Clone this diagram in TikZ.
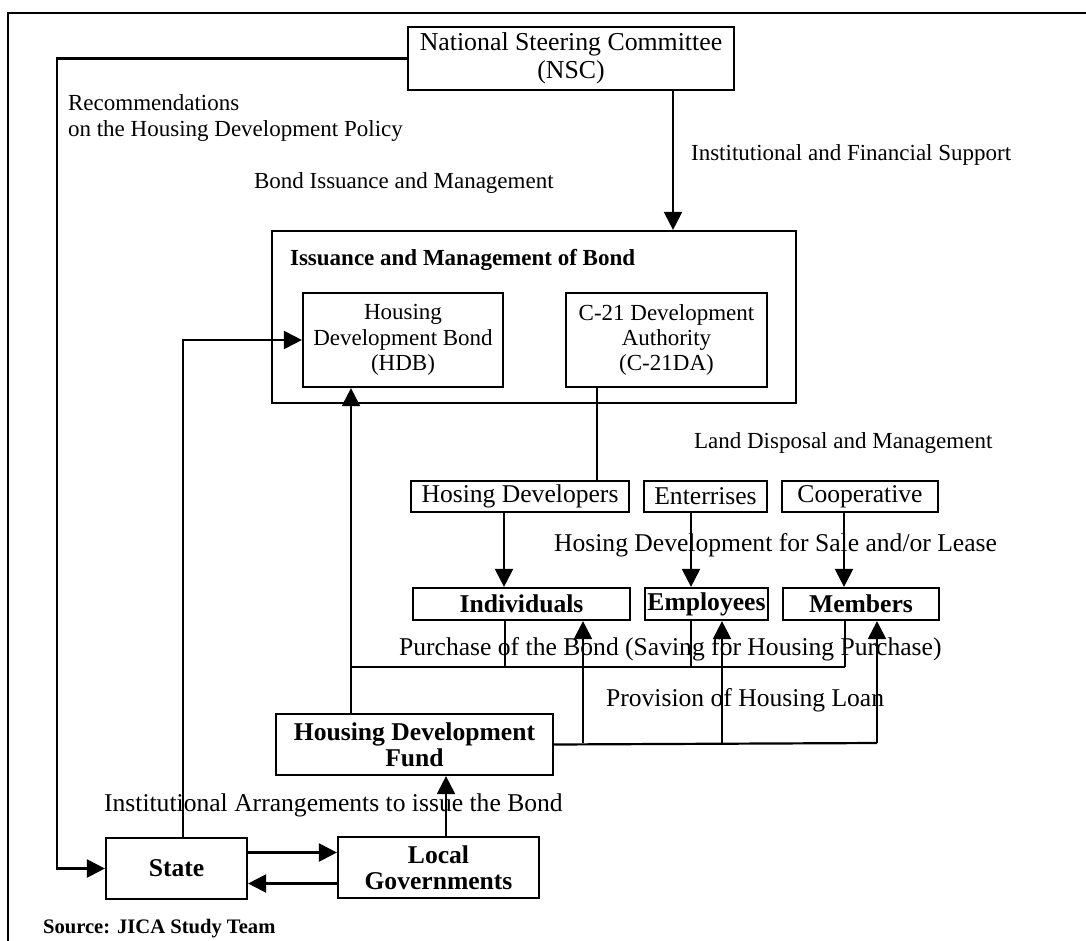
\documentclass[tikz,border=0pt]{standalone}
\usepackage{fontspec}
\setmainfont{Liberation Serif}
\usetikzlibrary{arrows.meta}

\newcommand{\smtxt}{\fontsize{11.5}{12.6}\selectfont}
\newcommand{\lrgtxt}{\fontsize{12.8}{13}\selectfont}
\newcommand{\nsctxt}{\fontsize{12.9}{14}\selectfont}
\newcommand{\srctxt}{\fontsize{10.3}{12}\selectfont}

\tikzset{
	box/.style={draw, line width=1.1pt, inner sep=1pt, align=center, font=\lrgtxt},
	bbox/.style={box, font=\lrgtxt\bfseries},
	lbl/.style={anchor=west, inner sep=0pt, font=\smtxt},
	blbl/.style={lbl, font=\lrgtxt},
	arr/.style={-{Triangle[length=9pt,width=9pt]}, line width=1.1pt}
}

\begin{document}
\begin{tikzpicture}[x=0.5pt, y=-0.5pt, line width=1.1pt]

	\useasboundingbox (0,0) rectangle (1086,941);
	\draw[line width=0.7pt] (8,941) -- (8,13) -- (1086,13);

	\node[box, font=\nsctxt, minimum width=163pt, minimum height=31.5pt] (nsc) at (571,58.5) {National Steering Committee\\(NSC)};

	\node[draw, inner sep=0pt, minimum width=262pt, minimum height=86pt] (issue) at (534,317) {};
	\node[lbl, font=\smtxt\bfseries] (issuetitle) at (289,260) {Issuance and Management of Bond};
	\node[box, font=\smtxt, minimum width=100pt, minimum height=47pt] (hdb) at (403,340) {Housing\\Development Bond\\(HDB)};
	\node[box, font=\smtxt, minimum width=100.5pt, minimum height=47pt] (c21) at (666.5,340) {C-21 Development\\Authority\\(C-21DA)};

	\node[box, minimum width=109pt, minimum height=15.5pt] (hdev) at (520,496.5) {Hosing Developers};
	\node[box, minimum width=61.5pt, minimum height=15.5pt] (ent) at (705.5,496.5) {Enterrises};
	\node[box, minimum width=78pt, minimum height=15.5pt] (coop) at (860,496.5) {Cooperative};

	\node[bbox, minimum width=108.5pt, minimum height=16pt] (indiv) at (521.5,604) {Individuals};
	\node[bbox, minimum width=61.5pt, minimum height=16pt] (empl) at (706.5,604) {Employees};
	\node[bbox, minimum width=78pt, minimum height=16pt] (memb) at (861,604) {Members};

	\node[bbox, minimum width=138.5pt, minimum height=30.5pt] (fund) at (414.5,744.5) {Housing Development\\Fund};
	\node[bbox, minimum width=70.5pt, minimum height=30.5pt] (state) at (176.5,868.5) {State};
	\node[bbox, minimum width=100.5pt, minimum height=30.5pt] (local) at (438.5,867.5) {Local\\Governments};

	\node[lbl, align=left] (recom) at (67,118) {Recommendations\\on the Housing Development Policy};
	\node[lbl] (bondman) at (253,183) {Bond Issuance and Management};
	\node[lbl] (support) at (690,155) {Institutional and Financial Support};
	\node[lbl] (land) at (693,443) {Land Disposal and Management};
	\node[blbl] (sale) at (553,545) {Hosing Development for Sale and/or Lease};
	\node[blbl] (purchase) at (398,649) {Purchase of the Bond (Saving for Housing Purchase)};
	\node[blbl] (loan) at (605,700) {Provision of Housing Loan};
	\node[blbl] (arrange) at (103,805) {Institutional Arrangements to issue the Bond};
	\node[anchor=base west, inner sep=0pt, font=\srctxt\bfseries] (src) at (42,933) {Source: JICA Study Team};

	\coordinate (lft) at (57,868.5);
	\coordinate (nscx) at (673,0);
	\coordinate (stup) at (183,340);
	\coordinate (localx) at (446,0);
	\coordinate (bondx) at (351,0);
	\coordinate (c21x) at (597,0);

	\draw[arr] (nsc.west) -| (lft) -- (state.west);
	\draw[arr] (nscx |- nsc.south) -- (nscx |- issue.north);
	\draw[arr] (stup |- state.north) -- (stup) -- (hdb.west);
	\draw[arr] ([yshift=8pt]state.east) -- ([yshift=8pt]state.east -| local.west);
	\draw[arr] ([yshift=-8pt]local.west) -- ([yshift=-8pt]local.west -| state.east);
	\draw[arr] (localx |- local.north) -- (localx |- fund.south);
	\draw[arr] (bondx |- fund.north) -- (bondx |- hdb.south);
	\draw (c21x |- c21.south) -- (c21x |- hdev.north);

	\foreach \x / \a / \b in {504/hdev/indiv, 691/ent/empl, 844/coop/memb}
	{
		\draw[arr] (\x,0 |- \a.south) -- (\x,0 |- \b.north);
	};

	\coordinate (p0) at (351,667);
	\foreach \x / \a in {505/indiv, 691/empl, 845/memb}
	{
		\draw (\x,0 |- \a.south) -- (\x,667);
	};
	\draw (845,667) -- (p0);

	\coordinate (l3) at (877,743);
	\draw (fund.east) -- (l3);
	\foreach \x / \a in {583/indiv, 722/empl, 877/memb}
	{
		\draw[arr] (\x,743) -- (\x,0 |- \a.south);
	};
\end{tikzpicture}
\end{document}
